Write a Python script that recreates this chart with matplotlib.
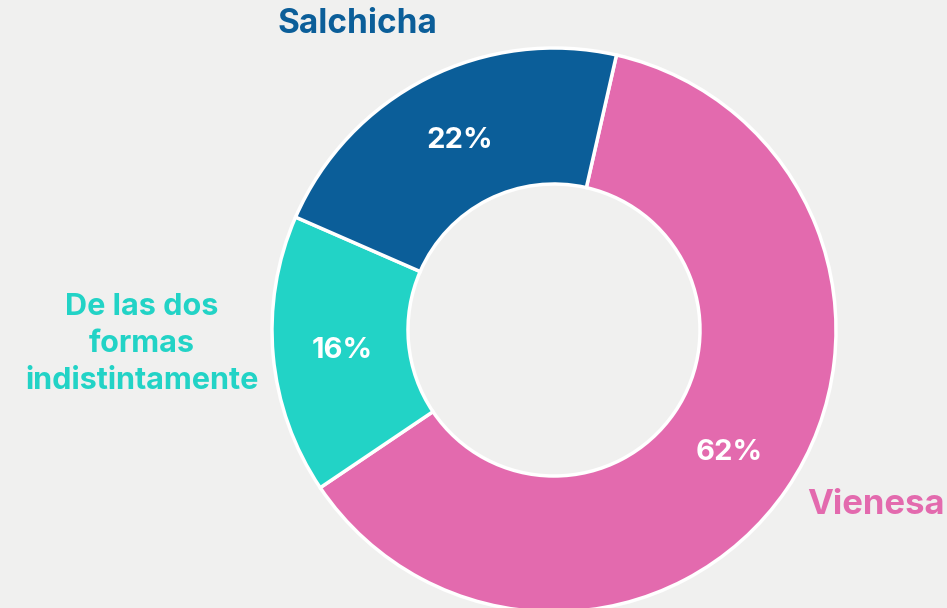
import matplotlib.pyplot as plt

labels = ["Vienesa", "De las dos\nformas\nindistintamente", "Salchicha"]
values = [62, 16, 22]
colors = ["#E36AAE", "#22D3C6", "#0B5E99"]

plt.rcParams['font.family'] = ['Inter', 'DejaVu Sans']

fig = plt.figure(figsize=(9.47, 6.08), dpi=100)
fig.patch.set_facecolor("#F0F0EF")
ax = fig.add_axes([0, 0, 1, 1])
ax.set_facecolor("#F0F0EF")

cx, cy, r = 554, 278, 282
wedges, _ = ax.pie(
    values, colors=colors, startangle=77.2, counterclock=False,
    center=(cx, cy), radius=r, frame=True,
    wedgeprops=dict(width=r - 146, edgecolor="white", linewidth=2.5),
)
ax.set_xlim(0, 947)
ax.set_ylim(0, 608)
ax.set_aspect("equal")
ax.axis("off")

# percentage labels inside ring
pct_pos = [(729, 608 - 452), (342, 608 - 350), (460, 608 - 140)]
for v, (x, y) in zip(values, pct_pos):
    ax.text(x, y, f"{v}%", color="white", fontsize=21, fontweight="bold",
            ha="center", va="center")

# outer labels
ax.text(876, 608 - 505, labels[0], color=colors[0], fontsize=25,
        fontweight="bold", ha="center", va="center")
ax.text(142, 608 - 344, labels[1], color=colors[1], fontsize=22,
        fontweight="bold", ha="center", va="center", linespacing=1.4)
ax.text(357, 608 - 24, labels[2], color=colors[2], fontsize=24,
        fontweight="bold", ha="center", va="center")

fig.savefig("out.png", dpi=100, facecolor=fig.get_facecolor())
